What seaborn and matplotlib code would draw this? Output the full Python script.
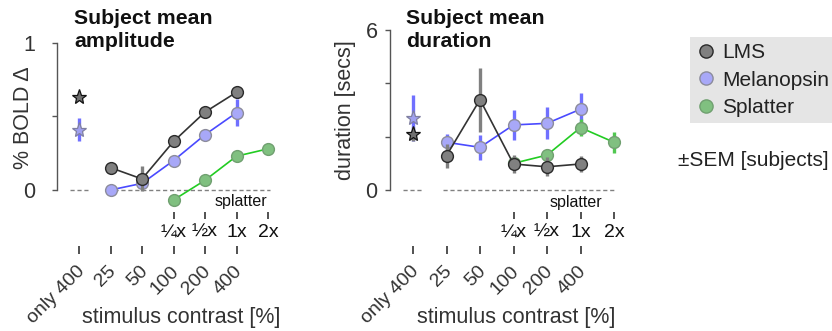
import matplotlib
matplotlib.use("Agg")
import matplotlib.pyplot as plt
import matplotlib.transforms as mtransforms
from matplotlib.lines import Line2D
import seaborn as sns
import numpy as np

# ---------------- data ----------------
cond_labels = ["only 400", "25", "50", "100", "200", "400"]
cond_pos = [0, 1, 2, 3, 4, 5]
splatter_labels = ["\u00bcx", "\u00bdx", "1x", "2x"]
splatter_pos = [3, 4, 5, 6]
series_pos = [1, 2, 3, 4, 5]
star_pos = [0]

# amplitude (% BOLD change)
lms_amp = [0.152, 0.075, 0.33, 0.53, 0.665]
lms_amp_err = [0.01, 0.085, 0.01, 0.01, 0.02]
lms_amp_star = [0.635]
lms_amp_star_err = [0.01]
mel_amp = [0.0, 0.045, 0.20, 0.376, 0.526]
mel_amp_err = [0.01, 0.02, 0.015, 0.03, 0.09]
mel_amp_star = [0.41]
mel_amp_star_err = [0.08]
spl_amp = [-0.068, 0.066, 0.23, 0.28]
spl_amp_err = [0.01, 0.01, 0.03, 0.025]

# duration (secs)
lms_dur = [1.29, 3.39, 0.975, 0.87, 0.975]
lms_dur_err = [0.45, 1.2, 0.34, 0.36, 0.31]
lms_dur_star = [2.1]
lms_dur_star_err = [0.25]
mel_dur = [1.79, 1.60, 2.44, 2.50, 3.03]
mel_dur_err = [0.32, 0.47, 0.55, 0.6, 0.6]
mel_dur_star = [2.69]
mel_dur_star_err = [0.87]
spl_dur = [1.0, 1.31, 2.34, 1.79]
spl_dur_err = [0.2, 0.15, 0.33, 0.4]

# ---------------- style ----------------
sns.set_style("white")
plt.rcParams["font.family"] = ["Liberation Sans", "DejaVu Sans"]

TXT = "#333333"
styles = {
    "LMS": dict(line="#333333", face="#808080", edge="#2a2a2a", err="#808080", star_face="#707070", star_edge="#111111"),
    "Melanopsin": dict(line="#4a4aff", face="#a8a8f8", edge="#8c8c9c", err="#7070ff", star_face="#a0a0f0", star_edge="#8080a0"),
    "Splatter": dict(line="#22cc22", face="#80c080", edge="#70a070", err="#50c850", star_face="#80c080", star_edge="#70a070"),
}

W, H = 832, 331
fig = plt.figure(figsize=(W / 100, H / 100), dpi=100)


def add_axes_px(left, top, right, bottom):
    return fig.add_axes([left / W, 1 - bottom / H, (right - left) / W, (bottom - top) / H])


def draw_series(ax, name, x, y, err, z):
    st = styles[name]
    ax.errorbar(x, y, yerr=err, fmt="none", ecolor=st["err"], elinewidth=2.4, capsize=0, zorder=z)
    sns.lineplot(x=x, y=y, ax=ax, color=st["line"], linewidth=1.2, marker="o", markersize=8.5,
                 markerfacecolor=st["face"], markeredgecolor=st["edge"], markeredgewidth=1.0,
                 zorder=z + 0.5, legend=False)


def draw_star(ax, name, x, y, err, z):
    st = styles[name]
    ax.errorbar(x, y, yerr=err, fmt="none", ecolor=st["err"], elinewidth=2.4, capsize=0, zorder=z)
    ax.plot(x, y, linestyle="none", marker="*", markersize=11, markerfacecolor=st["star_face"],
            markeredgecolor=st["star_edge"], markeredgewidth=0.9, zorder=z + 0.5)


def setup_axes(ax, ylim, yticks, yticklabels, ylab, ylab_xy, xlab_xy, sec_loc, ytick_pad, spl_txt_xy):
    ax.set_xlim(-0.7, 6.5)
    ax.set_ylim(*ylim)
    for s in ["top", "right", "bottom"]:
        ax.spines[s].set_visible(False)
    ax.spines["left"].set_bounds(yticks[0], yticks[-1])
    ax.spines["left"].set_color("#555555")
    ax.spines["left"].set_linewidth(1.0)
    ax.set_yticks(yticks)
    ax.set_yticklabels(yticklabels)
    ax.tick_params(axis="y", direction="out", length=3.5, width=1, color="#555555",
                   labelsize=15.5, labelcolor=TXT, pad=ytick_pad, left=True)
    ax.set_xticks(cond_pos)
    ax.set_xticklabels(cond_labels, rotation=45, ha="right", rotation_mode="anchor")
    ax.tick_params(axis="x", direction="out", length=6, width=1.2, color="#333333",
                   labelsize=14, labelcolor=TXT, pad=6, bottom=True)
    shift = mtransforms.ScaledTranslation(-3 / 100, 0, fig.dpi_scale_trans)
    for lab in ax.get_xticklabels():
        lab.set_transform(lab.get_transform() + shift)
    # zero reference dashed lines
    ax.hlines([0, 0], [-0.3, 0.9], [0.3, 6.05], colors="#808080", linestyles=(0, (3, 2)),
              linewidth=1, zorder=1)
    # splatter secondary axis
    sec = ax.secondary_xaxis(sec_loc)
    sec.set_xticks(splatter_pos)
    sec.set_xticklabels(splatter_labels)
    sec.spines["bottom"].set_visible(False)
    sec.spines["top"].set_visible(False)
    sec.tick_params(axis="x", direction="out", length=5, width=1.2, color="#333333",
                    labelsize=14, labelcolor="#111111", pad=4)
    ax.text(spl_txt_xy[0], spl_txt_xy[1], "splatter", ha="center", va="top", fontsize=11.5,
            color="#111111")
    # labels
    ax.set_ylabel(ylab, fontsize=15.5, color=TXT, va="center")
    ax.yaxis.set_label_coords(ylab_xy[0], ylab_xy[1],
                              transform=mtransforms.blended_transform_factory(ax.transAxes, ax.transData))
    ax.set_xlabel("stimulus contrast [%]", fontsize=15.5, color=TXT, va="center")
    ax.xaxis.set_label_coords(xlab_xy[0], xlab_xy[1])


# ---------------- amplitude panel ----------------
ax1 = add_axes_px(56.95, 43, 283.75, 246)
draw_star(ax1, "Melanopsin", star_pos, mel_amp_star, mel_amp_star_err, 3)
draw_star(ax1, "LMS", star_pos, lms_amp_star, lms_amp_star_err, 5)
draw_series(ax1, "Melanopsin", series_pos, mel_amp, mel_amp_err, 3)
draw_series(ax1, "Splatter", splatter_pos, spl_amp, spl_amp_err, 4)
draw_series(ax1, "LMS", series_pos, lms_amp, lms_amp_err, 5)
setup_axes(ax1, (-0.381, 1.0), [0, 0.5, 1], ["0", "", "1"], "% BOLD \u0394",
           (-0.1475, 0.49), (0.549, -0.35), 0.169, 12, (5.14, -0.03))

# ---------------- duration panel ----------------
ax2 = add_axes_px(389.55, 30, 630.75, 246)
draw_star(ax2, "Melanopsin", star_pos, mel_dur_star, mel_dur_star_err, 3)
draw_star(ax2, "LMS", star_pos, lms_dur_star, lms_dur_star_err, 5)
draw_series(ax2, "Melanopsin", series_pos, mel_dur, mel_dur_err, 3)
draw_series(ax2, "Splatter", splatter_pos, spl_dur, spl_dur_err, 4)
draw_series(ax2, "LMS", series_pos, lms_dur, lms_dur_err, 5)
setup_axes(ax2, (-2.1, 6.0), [0, 2, 4, 6], ["0", "", "", "6"], "duration [secs]",
           (-0.1847, 3.0), (0.523, -0.333), 0.159, 5, (4.87, -0.19))

# titles
fig.text(74 / W, 1 - 9 / H, "Subject mean\namplitude", ha="left", va="top", fontsize=15.3,
         fontweight="bold", color="#111111", linespacing=1.25)
fig.text(406 / W, 1 - 9 / H, "Subject mean\nduration", ha="left", va="top", fontsize=15.3,
         fontweight="bold", color="#111111", linespacing=1.25)

# legend
handles = [Line2D([], [], linestyle="none", marker="o", markersize=9.5,
                  markerfacecolor=styles[n]["face"], markeredgecolor=styles[n]["edge"],
                  markeredgewidth=1.0) for n in ["LMS", "Melanopsin", "Splatter"]]
leg = fig.legend(handles, ["LMS", "Melanopsin", "Splatter"], loc="upper left",
                 bbox_to_anchor=(690 / W, 1 - 37 / H), frameon=True, fancybox=False,
                 facecolor="#e5e5e5", edgecolor="none", framealpha=1, fontsize=15,
                 handletextpad=0.25, borderpad=0.28, labelspacing=0.42, handlelength=1.0,
                 borderaxespad=0)
for t in leg.get_texts():
    t.set_color("#222222")

fig.text(678 / W, 1 - 160 / H, "\u00b1SEM [subjects]", ha="left", va="center", fontsize=15,
         color="#222222")

fig.savefig("out.png", dpi=100)
